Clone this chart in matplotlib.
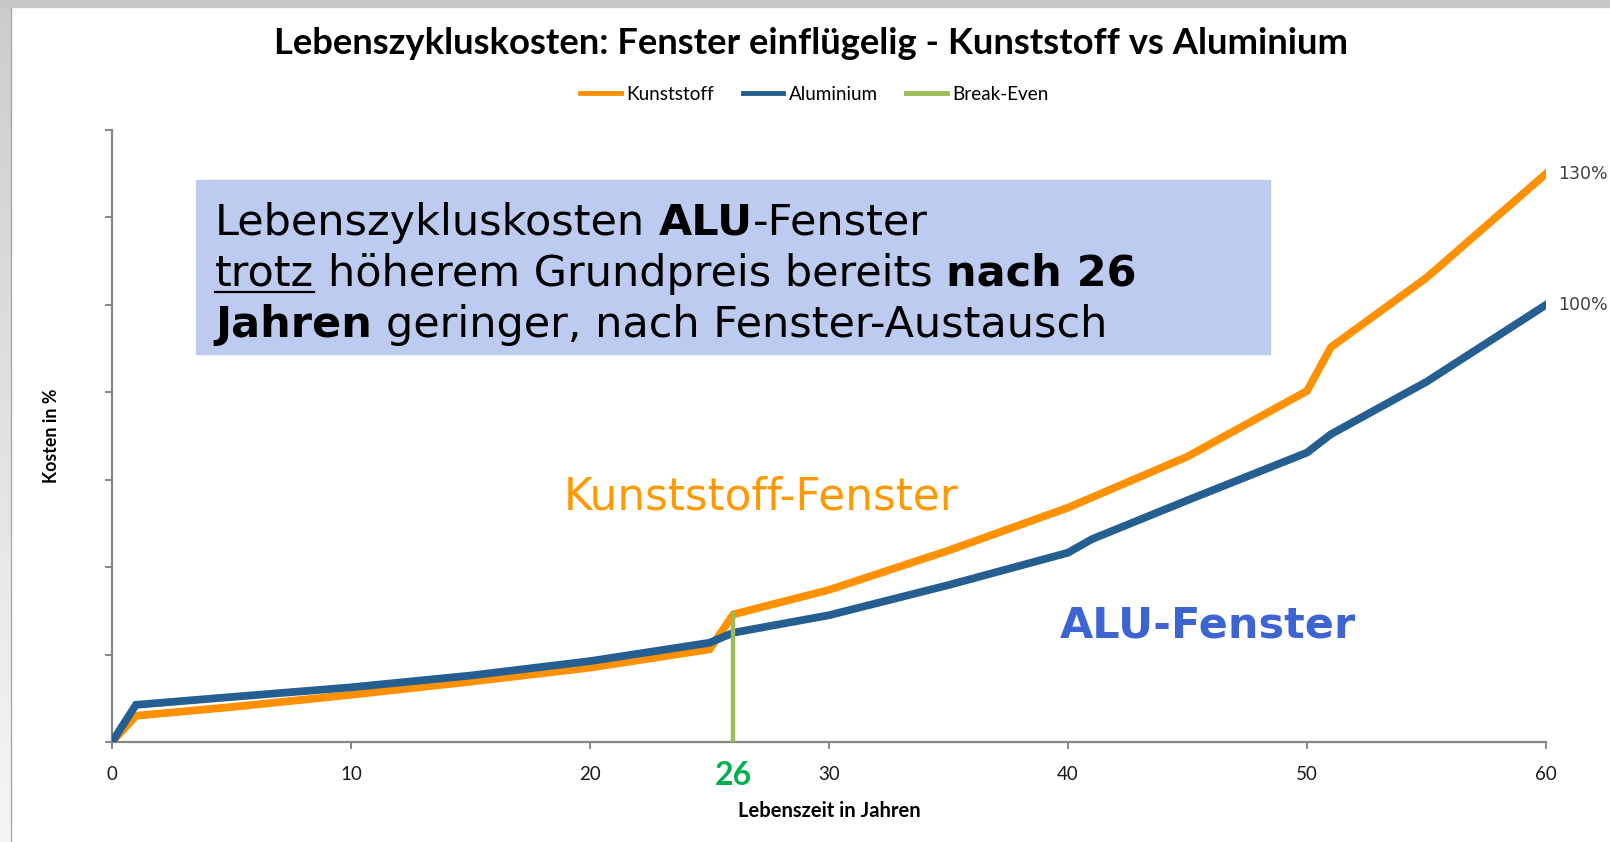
import numpy as np
import matplotlib
matplotlib.use("Agg")
import matplotlib.pyplot as plt
from matplotlib.lines import Line2D
from matplotlib.patches import Rectangle

# --- data (costs in %) ---
years_kunststoff = [0, 1, 5, 10, 15, 20, 25, 26, 30, 35, 40, 45, 50, 51, 55, 60]
kunststoff = [0, 6.0, 8.0, 10.8, 13.8, 17.0, 21.2, 29.2, 34.8, 43.8, 53.6, 65.3, 80.3, 90.3, 106.2, 130]
years_alu = [0, 1, 5, 10, 15, 20, 25, 26, 30, 35, 40, 41, 45, 50, 51, 55, 60]
aluminium = [0, 8.5, 10.3, 12.5, 15.2, 18.5, 22.7, 25.0, 29.0, 35.9, 43.3, 46.4, 55.3, 66.2, 70.4, 82.4, 100]
break_even_year = 26
break_even_cost = [0, 29.2]
x_ticks = [0, 10, 20, 30, 40, 50, 60]
y_ticks = [0, 20, 40, 60, 80, 100, 120, 140]
end_labels = ["130%", "100%"]

C_ORANGE = "#ff9000"
C_BLUE = "#255e91"
C_GREEN = "#9bbb59"

W, H = 1610, 842
fig = plt.figure(figsize=(W / 100, H / 100), dpi=100)
fig.patch.set_facecolor("white")


def fx(px):
    return px / W


def fy(py):
    return 1 - py / H


# gray frame (slide border)
strip = fig.add_axes([0, 0, fx(11), 1])
grad = np.linspace(0.80, 0.96, 100).reshape(-1, 1)
strip.imshow(grad, aspect="auto", cmap="gray", vmin=0, vmax=1, extent=[0, 1, 1, 0])
strip.axis("off")
fig.add_artist(Rectangle((0, fy(7)), 1, 7 / H, transform=fig.transFigure,
                         color="#c6c6c6", zorder=5))
fig.add_artist(Line2D([fx(11), fx(11)], [0, fy(7)], transform=fig.transFigure,
                      color="#a8a8a8", lw=1))

ax = fig.add_axes([fx(112), fy(742), fx(1546) - fx(112), (742 - 130) / H])
ax.plot(years_kunststoff, kunststoff, color=C_ORANGE, lw=5.6, label="Kunststoff",
        solid_joinstyle="miter", zorder=3)
ax.plot(years_alu, aluminium, color=C_BLUE, lw=5.6, label="Aluminium",
        solid_joinstyle="miter", zorder=4)
ax.plot([break_even_year, break_even_year], break_even_cost, color=C_GREEN, lw=3.2,
        label="Break-Even", zorder=5)

ax.set_xlim(0, 60)
ax.set_ylim(0, 140)
ax.set_xticks(x_ticks)
ax.set_yticks(y_ticks)
ax.set_yticklabels([])
for s in ["top", "right"]:
    ax.spines[s].set_visible(False)
for s in ["left", "bottom"]:
    ax.spines[s].set_color("#868686")
    ax.spines[s].set_linewidth(1.6)
ax.tick_params(axis="both", direction="out", length=5, width=1.4, color="#868686")
ax.tick_params(axis="x", pad=12, labelsize=13.5, labelcolor="#1a1a1a")
for lab in ax.get_xticklabels():
    lab.set_family("Lato")
ax.patch.set_alpha(0)

ax.set_xlabel("Lebenszeit in Jahren", fontsize=14.5, fontweight="bold", family="Lato")
ax.xaxis.set_label_coords(0.5, -0.113)
ax.xaxis.label.set_va("center")
ax.set_ylabel("Kosten in %", fontsize=12.8, fontweight="bold", family="Lato")
ax.yaxis.set_label_coords(-0.0425, 0.5)
ax.yaxis.label.set_va("center")

# end labels
for lab, xs, ys in [(end_labels[0], years_kunststoff, kunststoff),
                    (end_labels[1], years_alu, aluminium)]:
    ax.annotate(lab, (xs[-1], ys[-1]), xytext=(9, 0), textcoords="offset points",
                va="center", ha="left", fontsize=12.5, color="#404040",
                annotation_clip=False)

# green break-even year label
ax.text(break_even_year, -0.054, str(break_even_year), transform=ax.get_xaxis_transform(),
        ha="center", va="center", fontsize=23, fontweight="bold", color="#00b050",
        family="Lato")

# title and legend
fig.text(0.504, fy(44), "Lebenszykluskosten: Fenster einflügelig - Kunststoff vs Aluminium",
         ha="center", va="center", fontsize=26.2, fontweight="bold", family="Lato")
fig.legend(loc="center", bbox_to_anchor=(0.506, fy(94)), ncol=3, frameon=False,
           prop={"family": "Lato", "size": 13.6}, handlelength=2.15, handletextpad=0.3,
           columnspacing=1.5)
for h in fig.legends[0].get_lines():
    h.set_linewidth(3.5)

# curve captions
fig.text(fx(564), fy(497), "Kunststoff-Fenster", ha="left", va="center", fontsize=31.5,
         color="#ff9900", family="DejaVu Sans")
fig.text(fx(1060), fy(626), "ALU-Fenster", ha="left", va="center", fontsize=31,
         fontweight="bold", color="#3c64d2", family="DejaVu Sans")

# annotation box
fig.add_artist(Rectangle((fx(196), fy(354)), fx(1270) - fx(196), (354 - 180) / H,
                         transform=fig.transFigure, color="#bccbef", zorder=1))

renderer = fig.canvas.get_renderer()
BOX_FS = 31


def text_width(s, weight):
    t = fig.text(0, 0, s, fontsize=BOX_FS, fontweight=weight, family="DejaVu Sans")
    w = t.get_window_extent(renderer).width
    t.remove()
    return w


space_w = text_width("x x", "normal") - text_width("xx", "normal")

lines = [
    [("Lebenszykluskosten", "normal", False), (" ", "normal", False), ("ALU", "bold", False),
     ("-Fenster", "normal", False)],
    [("trotz", "normal", True), (" ", "normal", False), ("höherem Grundpreis bereits", "normal", False),
     (" ", "normal", False), ("nach 26", "bold", False)],
    [("Jahren", "bold", False), (" ", "normal", False), ("geringer, nach Fenster-Austausch", "normal", False)],
]
baselines = [235, 286, 337]
for parts, base in zip(lines, baselines):
    xpix = 215
    for s, w, u in parts:
        if s == " ":
            xpix += space_w
            continue
        t = fig.text(fx(xpix), fy(base), s, fontsize=BOX_FS, fontweight=w,
                     family="DejaVu Sans", va="baseline", ha="left", zorder=6)
        bb = t.get_window_extent(renderer)
        if u:
            fig.add_artist(Line2D([fx(xpix), fx(xpix + bb.width)], [fy(base + 6), fy(base + 6)],
                                  transform=fig.transFigure, color="black", lw=1.6, zorder=6))
        xpix += bb.width

fig.savefig("out.png", dpi=100)
